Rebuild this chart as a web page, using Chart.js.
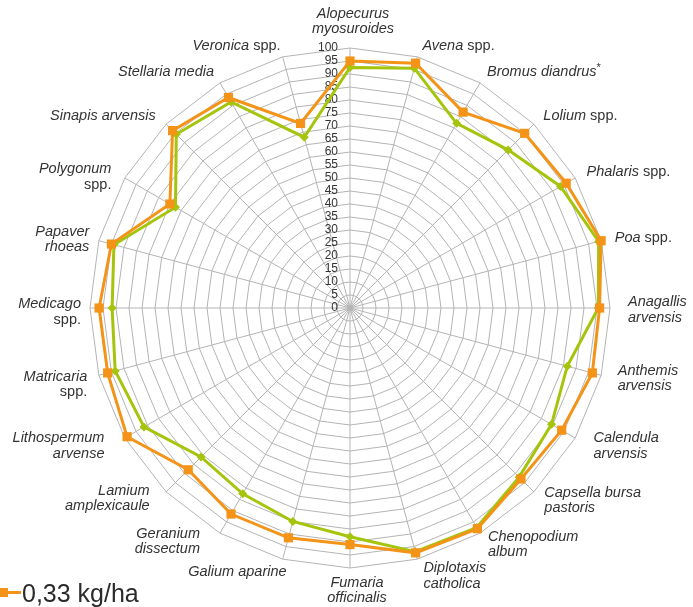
<!DOCTYPE html>
<html>
<head>
<meta charset="utf-8">
<script src="https://cdn.jsdelivr.net/npm/chart.js@4/dist/chart.umd.min.js"></script>
<style>
html,body{margin:0;padding:0;background:#fff;}
#wrap{position:relative;width:693px;height:607px;overflow:hidden;}
#legend{position:absolute;left:0;top:578px;height:30px;display:flex;align-items:center;font-family:"Liberation Sans",Arial,Helvetica,sans-serif;font-size:25px;color:#2b2b2b;white-space:nowrap;}
.mk{position:relative;width:21px;height:30px;margin-right:1px;flex:none;}
.mk .ln{position:absolute;left:0;top:13px;width:21px;height:3px;background:#f39419;}
.mk .sq{position:absolute;left:-1px;top:10px;width:9px;height:9px;background:#f39419;}
</style>
</head>
<body>
<div id="wrap">
<canvas id="c" width="693" height="607"></canvas>
<div id="legend"><div class="mk"><div class="ln"></div><div class="sq"></div></div><span id="legtext"></span></div>
</div>
<script>
// ---- data ----
const categories = [
  ["Alopecurus", "myosuroides"],
  "Avena spp.",
  "Bromus diandrus*",
  "Lolium spp.",
  "Phalaris spp.",
  "Poa spp.",
  ["Anagallis", "arvensis"],
  ["Anthemis", "arvensis"],
  ["Calendula", "arvensis"],
  ["Capsella bursa", "pastoris"],
  ["Chenopodium", "album"],
  ["Diplotaxis", "catholica"],
  ["Fumaria", "officinalis"],
  "Galium aparine",
  ["Geranium", "dissectum"],
  ["Lamium", "amplexicaule"],
  ["Lithospermum", "arvense"],
  ["Matricaria", "spp."],
  ["Medicago", "spp."],
  ["Papaver", "rhoeas"],
  ["Polygonum", "spp."],
  "Sinapis arvensis",
  "Stellaria media",
  "Veronica spp."
];
const seriesOrangeLabel = "0,33 kg/ha";
const seriesOrange = [95, 97.5, 87, 95, 96, 100, 96, 96.5, 94, 93, 98, 97.5, 91, 91.5, 91.5, 88, 99, 96.5, 96.5, 95, 80, 96.5, 93.5, 73.5];
const seriesGreenLabel = "Serie 2";
const seriesGreen  = [92.5, 95.5, 82, 86, 93.5, 99, 95.5, 86.5, 89.5, 92, 97.5, 97, 88, 85, 82.5, 81, 91.5, 93.5, 91.5, 94, 77.5, 94.5, 91.5, 68];
const tickLabels = [0, 5, 10, 15, 20, 25, 30, 35, 40, 45, 50, 55, 60, 65, 70, 75, 80, 85, 90, 95, 100];

// ---- presentation (label placement tweaks, px) ----
const labelNudgeX = [3, 2, 1, 1, 1, 2, 6, 5, 8, 2, 2, 3, 7, 7, -14, -8, -10, 0, 3, 2, -3, -2, 0, 1];
const labelNudgeY = [1, 1, 0, 0, 0, 0, 2, 0, 2, 0, 1, 5, -5, 1, -2, -2, 2, 6, 4, 2, 5, 0, 0, 1];

const ORANGE = '#f39419';
const GREEN = '#a5c40c';
const GRID = '#b4b4b4';
const FONT = '"Liberation Sans", Arial, Helvetica, sans-serif';
const LABEL_SIZE = 14.5;

document.getElementById('legtext').textContent = seriesOrangeLabel;

function segmentsFor(line) {
  const segs = [];
  const re = /(spp\.)|(\*)/g;
  let last = 0, m;
  while ((m = re.exec(line)) !== null) {
    if (m.index > last) segs.push({t: line.slice(last, m.index), f: 'italic ' + LABEL_SIZE + 'px ' + FONT, dy: 0});
    if (m[1]) segs.push({t: m[1], f: LABEL_SIZE + 'px ' + FONT, dy: 0});
    else segs.push({t: '*', f: '11px ' + FONT, dy: -4});
    last = re.lastIndex;
  }
  if (last < line.length) segs.push({t: line.slice(last), f: 'italic ' + LABEL_SIZE + 'px ' + FONT, dy: 0});
  return segs;
}

const labelPlugin = {
  id: 'radarText',
  beforeDatasetsDraw(chart) {
    const s = chart.scales.r, ctx = chart.ctx;
    ctx.save();
    ctx.font = '12px ' + FONT;
    ctx.fillStyle = '#333';
    ctx.textAlign = 'right';
    ctx.textBaseline = 'middle';
    tickLabels.forEach(v => {
      const d = s.getDistanceFromCenterForValue(v);
      ctx.fillText(String(v), s.xCenter - 12, s.yCenter - d);
    });
    ctx.restore();
  },
  afterDraw(chart) {
    const s = chart.scales.r, ctx = chart.ctx;
    const n = categories.length;
    const lineH = 15.5;
    ctx.save();
    ctx.fillStyle = '#333';
    ctx.textBaseline = 'middle';
    ctx.textAlign = 'left';
    categories.forEach((lab, i) => {
      const lines = Array.isArray(lab) ? lab : [lab];
      const deg = Math.round(i * 360 / n);
      const p = s.getPointPosition(i, s.drawingArea + 12);
      const px = p.x + labelNudgeX[i], py = p.y + labelNudgeY[i];
      let y0;
      if (deg === 0) y0 = py - (lines.length - 1) * lineH - lineH / 2;
      else if (deg === 180) y0 = py + lineH / 2;
      else y0 = py - (lines.length - 1) * lineH / 2;
      lines.forEach((ln, k) => {
        const segs = segmentsFor(ln);
        let w = 0;
        segs.forEach(sg => { ctx.font = sg.f; sg.w = ctx.measureText(sg.t).width; w += sg.w; });
        let x;
        if (deg === 0 || deg === 180) x = px - w / 2;
        else if (deg < 180) x = px;
        else x = px - w;
        const y = y0 + k * lineH;
        segs.forEach(sg => { ctx.font = sg.f; ctx.fillText(sg.t, x, y + sg.dy); x += sg.w; });
      });
    });
    ctx.restore();
  }
};

new Chart(document.getElementById('c'), {
  type: 'radar',
  data: {
    labels: categories,
    datasets: [
      {
        label: seriesOrangeLabel,
        data: seriesOrange,
        borderColor: ORANGE,
        backgroundColor: ORANGE,
        borderWidth: 3,
        fill: false,
        tension: 0,
        pointStyle: 'rect',
        pointRadius: 6.5,
        pointBorderWidth: 0,
        pointBackgroundColor: ORANGE
      },
      {
        label: seriesGreenLabel,
        data: seriesGreen,
        borderColor: GREEN,
        backgroundColor: GREEN,
        borderWidth: 3,
        fill: false,
        tension: 0,
        pointStyle: 'rectRot',
        pointRadius: 4.5,
        pointBorderWidth: 0,
        pointBackgroundColor: GREEN
      }
    ]
  },
  options: {
    responsive: false,
    animation: false,
    devicePixelRatio: 1,
    layout: { padding: { left: 90, right: 83, top: 48, bottom: 39 } },
    plugins: { legend: { display: false }, tooltip: { enabled: false } },
    elements: { line: { borderJoinStyle: 'miter' } },
    scales: {
      r: {
        min: 0,
        max: 100,
        startAngle: 0,
        ticks: { stepSize: 5, display: false },
        grid: { circular: false, color: GRID, lineWidth: 1 },
        angleLines: { display: true, color: GRID, lineWidth: 1 },
        pointLabels: { display: false }
      }
    }
  },
  plugins: [labelPlugin]
});
</script>
</body>
</html>
